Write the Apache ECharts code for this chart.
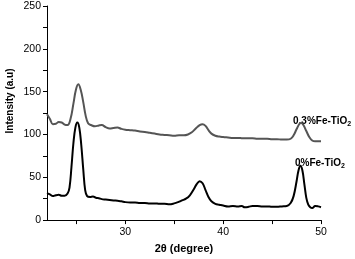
<!DOCTYPE html>
<html><head><meta charset="utf-8">
<script src="https://cdn.jsdelivr.net/npm/echarts@6/dist/echarts.min.js"></script>
<style>html,body{margin:0;padding:0;background:#fff}#c{width:355px;height:259px}</style>
</head><body><div id="c"></div>
<script>
const xTickLabels = [30, 40, 50];
const xTickMarks = [25, 30, 35, 40, 45, 50];
const seriesNames = ['0.3%Fe-TiO2', '0%Fe-TiO2'];
const twoTheta0 = [22.0,22.3,22.6,22.9,23.2,23.5,23.8,24.1,24.3,24.5,24.7,24.9,25.1,25.3,25.5,25.7,25.9,26.1,26.4,26.7,27.0,27.3,27.6,28.0,28.4,28.8,29.2,29.6,30.0,30.5,31.0,31.5,32.0,32.5,33.0,33.5,34.0,34.5,35.0,35.4,35.8,36.2,36.6,37.0,37.3,37.6,37.9,38.2,38.5,38.8,39.2,39.6,40.0,40.5,41.0,41.5,41.9,42.2,42.6,43.0,43.5,44.0,44.5,45.0,45.5,46.0,46.5,46.9,47.2,47.5,47.7,47.9,48.1,48.3,48.5,48.7,48.9,49.1,49.4,49.7,50.0];
const intensity0 = [31.5,30,28,29,29.5,28.5,28.5,31,38,62,90,108,114,108,88,60,35,28,27,27.5,26,25.5,24.5,24,23.5,23,22.5,22,21,20.5,20.5,20,20,19.5,19.5,19,19,18.5,19.5,21,23,25,29,36,42,45.5,43,35,27,22,19,18,17,16,16.5,16,16.5,15,15.5,16.5,16.5,16,16,15.5,15.5,16,16.5,20,28,45,58,63.5,58,42,26,18,15,14,16.5,16,15];
const twoTheta3 = [22.0,22.3,22.6,22.9,23.2,23.5,23.8,24.1,24.4,24.7,24.95,25.2,25.45,25.7,25.95,26.2,26.5,26.9,27.3,27.6,28.0,28.4,28.8,29.2,29.6,30.0,30.5,31.0,31.5,32.0,32.5,33.0,33.5,34.0,34.5,35.0,35.5,36.0,36.4,36.8,37.2,37.6,37.9,38.2,38.5,38.8,39.2,39.6,40.0,40.5,41.0,41.5,42.0,42.5,43.0,43.5,44.0,44.5,45.0,45.5,46.0,46.5,46.9,47.2,47.5,47.8,48.0,48.2,48.5,48.8,49.1,49.4,49.7,50.0];
const intensity3 = [123.5,118,112,112.5,114.5,114,111.5,111,118,136,152,158.5,152,138,122,113,111,109.5,110.5,111,108.5,107,107.5,108,106.5,105.5,105,104.5,103.5,103,102,101,100,99.5,99,98.5,99,99,100,102.5,107,111,112,110,105,101,98.5,97.5,97,96.5,96,96,95.5,95.5,95.5,95,95,95,94.5,94.5,94,94,95,99,106,112.5,113.5,111,104,97,93,92,92,92];

const zip = (a, b) => a.map((v, i) => [v, b[i]]);
const chart = echarts.init(document.getElementById('c'), null, {renderer: 'canvas'});
const FONT = '"Liberation Sans", Arial, sans-serif';
chart.setOption({
  animation: false,
  backgroundColor: '#fff',
  grid: {left: 47, right: 34, top: 6, bottom: 29, containLabel: false},
  xAxis: {
    type: 'value', min: 22, max: 50,
    name: '2θ (degree)', nameLocation: 'middle', nameGap: 16,
    nameTextStyle: {fontFamily: FONT, fontWeight: 'bold', fontSize: 11, color: '#000'},
    axisLine: {lineStyle: {color: '#000', width: 1}},
    axisTick: {show: true, length: 4, customValues: xTickMarks, lineStyle: {color: '#000'}},
    axisLabel: {customValues: xTickLabels, fontFamily: FONT, fontSize: 10.5, color: '#000', margin: 7},
    splitLine: {show: false}
  },
  yAxis: {
    type: 'value', min: 0, max: 250, interval: 50,
    axisLine: {show: true, lineStyle: {color: '#000', width: 1}},
    axisTick: {show: true, length: 4, lineStyle: {color: '#000'}},
    minorTick: {show: true, splitNumber: 2, length: 4, lineStyle: {color: '#000'}},
    axisLabel: {fontFamily: FONT, fontSize: 10.5, color: '#000', margin: 6},
    splitLine: {show: false}
  },
  graphic: [
    {type: 'text', x: 10, y: 101, rotation: Math.PI / 2,
     style: {text: 'Intensity (a.u)', font: 'bold 10px ' + FONT, fill: '#000', align: 'center', verticalAlign: 'middle'}},
    {type: 'text', x: 293, y: 121,
     style: {text: '{a|0.3%Fe-TiO}{b|2}', verticalAlign: 'middle',
       rich: {a: {fontFamily: FONT, fontWeight: 'bold', fontSize: 10, fill: '#000', color: '#000'},
              b: {fontFamily: FONT, fontWeight: 'bold', fontSize: 7, color: '#000', padding: [6, 0, 0, 0]}}}},
    {type: 'text', x: 295, y: 163,
     style: {text: '{a|0%Fe-TiO}{b|2}', verticalAlign: 'middle',
       rich: {a: {fontFamily: FONT, fontWeight: 'bold', fontSize: 10, color: '#000'},
              b: {fontFamily: FONT, fontWeight: 'bold', fontSize: 7, color: '#000', padding: [6, 0, 0, 0]}}}}
  ],
  series: [
    {name: seriesNames[0], type: 'line', data: zip(twoTheta3, intensity3), showSymbol: false, smooth: 0.4,
     lineStyle: {color: '#555', width: 2}},
    {name: seriesNames[1], type: 'line', data: zip(twoTheta0, intensity0), showSymbol: false, smooth: 0.4,
     lineStyle: {color: '#000', width: 2}}
  ]
});
</script></body></html>
